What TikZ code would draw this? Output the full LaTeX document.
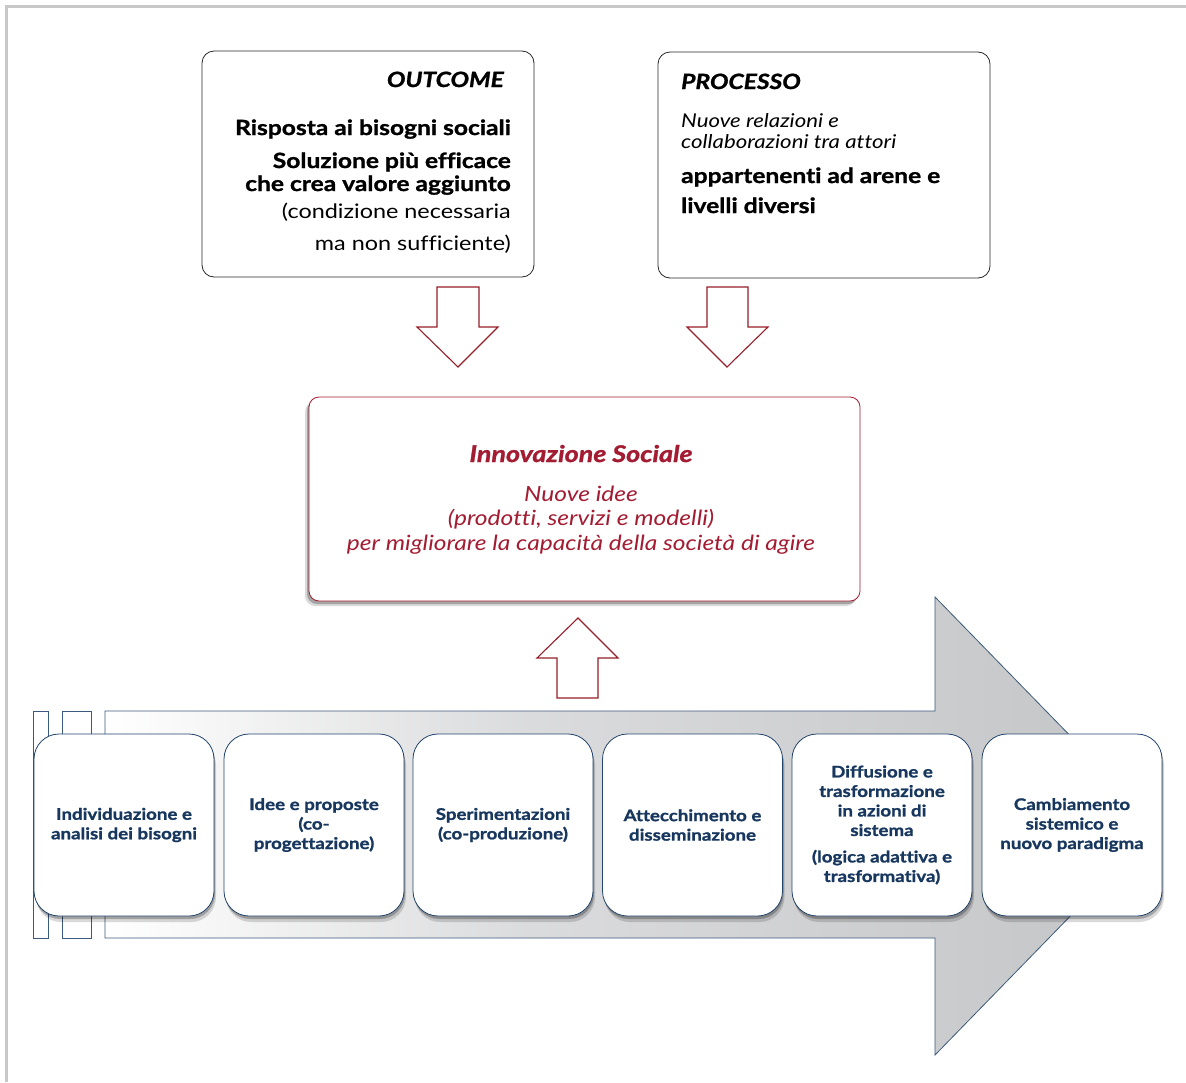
\documentclass[tikz,border=0pt]{standalone}
\usepackage{fontspec}
\setmainfont{Lato}[Ligatures=NoCommon, FakeStretch=1.17, BoldFeatures={FakeBold=1.2}, BoldItalicFeatures={FakeBold=1.2}]
\usetikzlibrary{shadows}
\definecolor{innred}{RGB}{163,28,50}
\definecolor{arrred}{RGB}{150,30,40}
\definecolor{navy}{RGB}{23,55,94}
\definecolor{cardline}{RGB}{35,68,108}
\definecolor{arrowline}{RGB}{60,90,125}
\definecolor{arrowgray}{RGB}{199,200,202}
\definecolor{framegray}{RGB}{200,200,200}
\pgfdeclarehorizontalshading{arrowshade}{100bp}{color(0bp)=(white); color(25bp)=(white); color(45bp)=(arrowgray!65!white); color(70bp)=(arrowgray); color(100bp)=(arrowgray)}
\tikzset{
  topbox/.style={draw=black!85, line width=0.8pt, rounded corners=12pt, fill=white, minimum width=332pt, minimum height=226pt, inner sep=0pt},
  innbox/.style={draw=innred, line width=0.8pt, rounded corners=10pt, fill=white, minimum width=551pt, minimum height=204pt, inner sep=0pt,
     drop shadow={shadow xshift=-4pt, shadow yshift=-5pt, opacity=0.15, fill=black},
     drop shadow={shadow xshift=-2pt, shadow yshift=-3pt, opacity=0.25, fill=black}},
  card/.style={draw=cardline, line width=0.8pt, fill=white, rounded corners=25pt, minimum width=180pt, minimum height=182pt,
     align=center, inner sep=2pt, text=navy, font=\bfseries\fontsize{16}{19.5}\selectfont,
     drop shadow={shadow xshift=2pt, shadow yshift=-6pt, opacity=0.15, fill=black},
     drop shadow={shadow xshift=1pt, shadow yshift=-3pt, opacity=0.25, fill=black}},
  blockarrow/.style={draw=arrred, line width=1.1pt, fill=white, line join=miter},
  txt/.style={inner sep=0pt},
  bigtxt/.style={txt, font=\bfseries\fontsize{21}{24}\selectfont},
  titletxt/.style={txt, font=\bfseries\itshape\fontsize{21}{24}\selectfont},
  regtxt/.style={txt, font=\fontsize{20}{24}\selectfont},
  ittxt/.style={txt, font=\itshape\fontsize{19}{22}\selectfont},
  redtxt/.style={txt, text=innred, font=\itshape\fontsize{21}{24}\selectfont},
}
\begin{document}
\begin{tikzpicture}[x=1pt,y=-1pt]
\useasboundingbox (0,0) rectangle (1186,1082);
% frame
\draw[framegray, line width=3pt] (5,6.5) -- (1186,6.5);
\draw[framegray, line width=3pt] (6.5,5) -- (6.5,1082);

% top boxes
\node[topbox] (outcome) at (368,164) {};
\node[topbox] (processo) at (824,165) {};

\node[titletxt, anchor=base east] (ot) at (504,87) {OUTCOME};
\node[bigtxt, anchor=base east] (o1) at (511,135) {Risposta ai bisogni sociali};
\node[bigtxt, anchor=base east] (o2) at (511,168) {Soluzione più efficace};
\node[bigtxt, anchor=base east] (o3) at (511,191) {che crea valore aggiunto};
\node[regtxt, anchor=base east] (o4) at (511,218) {(condizione necessaria};
\node[regtxt, anchor=base east] (o5) at (511,250) {ma non sufficiente)};

\node[titletxt, anchor=base west] (pt) at (681,89) {PROCESSO};
\node[ittxt, anchor=base west] (p1) at (681,127) {Nuove relazioni e};
\node[ittxt, anchor=base west] (p2) at (681,148) {collaborazioni tra attori};
\node[bigtxt, anchor=base west] (p3) at (681,183) {appartenenti ad arene e};
\node[bigtxt, anchor=base west] (p4) at (681,213) {livelli diversi};

% down arrows
\draw[blockarrow] (437,287) -- (479,287) -- (479,327) -- (498,327) -- (458,367) -- (417,327) -- (437,327) -- cycle;
\draw[blockarrow] (707,287) -- (748,287) -- (748,327) -- (768,327) -- (727,367) -- (687,327) -- (707,327) -- cycle;

% innovation box
\node[innbox] (inn) at (584.5,499) {};
\node[redtxt, anchor=base, font=\bfseries\itshape\fontsize{23}{24}\selectfont] (i0) at (581,462) {Innovazione Sociale};
\node[redtxt, anchor=base] (i1) at (581,501) {Nuove idee};
\node[redtxt, anchor=base] (i2) at (581,525) {(prodotti, servizi e modelli)};
\node[redtxt, anchor=base] (i3) at (581,550) {per migliorare la capacità della società di agire};

% up arrow
\draw[blockarrow] (578,618) -- (618,658) -- (598,658) -- (598,698) -- (557,698) -- (557,658) -- (537,658) -- cycle;

% big process arrow
\shadedraw[shading=arrowshade, draw=arrowline, line width=0.8pt] (105,711) -- (935,711) -- (935,597) -- (1158,826) -- (935,1055) -- (935,938) -- (105,938) -- cycle;
\draw[draw=arrowline, fill=white, line width=0.8pt] (33,711) rectangle (48,938);
\draw[draw=arrowline, fill=white, line width=0.8pt] (62,711) rectangle (91,938);

% cards
\node[card] (c1) at (124,825) {Individuazione e\\analisi dei bisogni};
\node[card] (c2) at (314,825) {Idee e proposte\\(co-\\progettazione)};
\node[card] (c3) at (503,825) {Sperimentazioni\\(co-produzione)};
\node[card] (c4) at (692.5,825) {Attecchimento e\\disseminazione};
\node[card] (c5) at (882,825) {Diffusione e\\trasformazione\\in azioni di\\sistema\\[7pt](logica adattiva e\\trasformativa)};
\node[card] (c6) at (1072,825) {Cambiamento\\sistemico e\\nuovo paradigma};
\end{tikzpicture}
\end{document}
